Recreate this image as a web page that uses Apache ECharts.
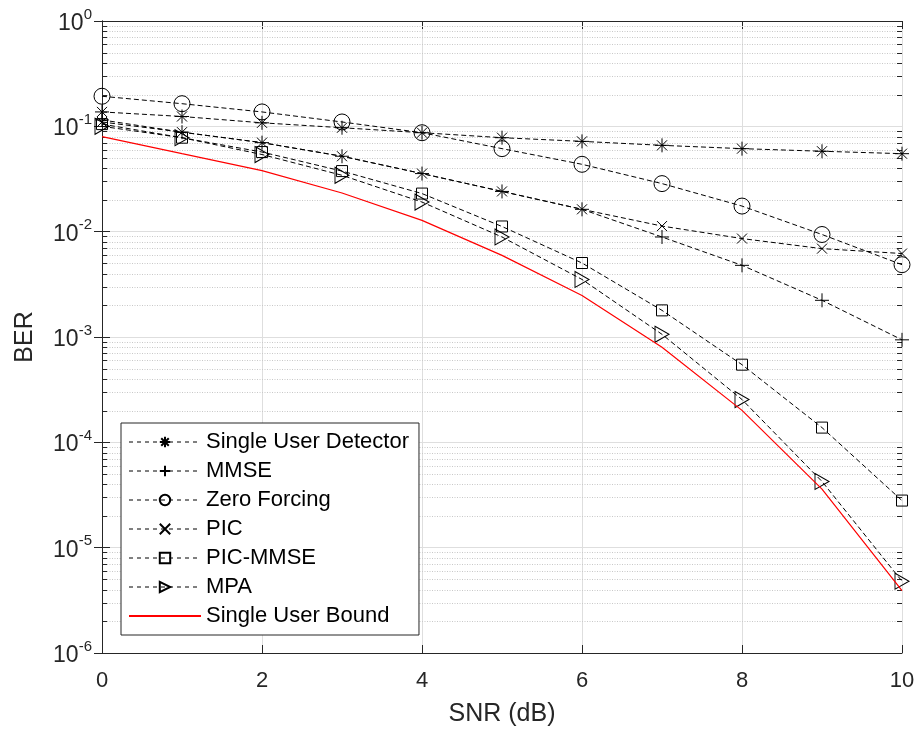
<!DOCTYPE html>
<html>
<head>
<meta charset="utf-8">
<script src="https://cdn.jsdelivr.net/npm/echarts@6/dist/echarts.min.js"></script>
<style>html,body{margin:0;padding:0;background:#fff}#c{width:919px;height:733px}</style>
</head>
<body>
<div id="c"></div>
<script>
var snr = [0,1,2,3,4,5,6,7,8,9,10];
var singleUserDetector = [0.137,0.124,0.108,0.097,0.087,0.078,0.072,0.066,0.0614,0.058,0.055];
var mmse = [0.115,0.088,0.070,0.052,0.0356,0.0241,0.0163,0.0089,0.00479,0.00223,0.00094];
var zeroForcing = [0.193,0.164,0.137,0.110,0.087,0.0614,0.0436,0.0286,0.0175,0.0094,0.00486];
var pic = [0.110,0.088,0.070,0.052,0.0356,0.0241,0.0163,0.0113,0.0086,0.0069,0.0062];
var picMmse = [0.105,0.078,0.057,0.0376,0.023,0.0112,0.00504,0.00179,0.000546,0.000138,0.000028];
var mpa = [0.100,0.078,0.054,0.0343,0.0191,0.0089,0.00352,0.00106,0.000255,0.0000425,0.0000048];
var singleUserBound = [0.080,0.055,0.038,0.0233,0.0128,0.00596,0.00248,0.0008,0.000201,0.000036,0.0000039];
var seriesNames = ['Single User Detector','MMSE','Zero Forcing','PIC','PIC-MMSE','MPA','Single User Bound'];
var xTicks = [0,2,4,6,8,10];
var decadeExponents = [-6,-5,-4,-3,-2,-1];
var minorMultipliers = [2,3,4,5,6,7,8,9];

var FONT = '"Liberation Sans", Arial, Helvetica, sans-serif';
var AX = '#262626';

var minorVals = [];
decadeExponents.forEach(function(e){ minorMultipliers.forEach(function(m){ minorVals.push([0, m*Math.pow(10,e)]); }); });

function pts(arr){ return snr.map(function(x,i){ return [x, arr[i]]; }); }

var SYM = {
  star: 'path://M0,-1L0,1M-1,0L1,0M-0.72,-0.72L0.72,0.72M-0.72,0.72L0.72,-0.72',
  plus: 'path://M0,-1L0,1M-1,0L1,0',
  cross: 'path://M-1,-1L1,1M-1,1L1,-1',
  square: 'path://M-1,-1L1,-1L1,1L-1,1Z',
  tri: 'path://M-1,-1L1,0L-1,1Z'
};

function dashed(name, data, symbol, size){
  return {
    name: name, type: 'line', data: pts(data), symbol: symbol, symbolSize: size,
    showAllSymbol: true, z: 3, silent: true,
    lineStyle: {color: '#000', width: 1, type: [5,3]},
    itemStyle: {color: 'rgba(0,0,0,0)', borderColor: '#000', borderWidth: 1},
    emphasis: {disabled: true}
  };
}

var legendData = seriesNames.map(function(n, i){
  if (i === seriesNames.length - 1) {
    return {name: n, itemStyle: {opacity: 0, color: 'rgba(0,0,0,0)', borderWidth: 0}};
  }
  return {name: n, lineStyle: {type: [4,4], width: 1}};
});

var chart = echarts.init(document.getElementById('c'), null, {renderer: 'canvas'});
chart.setOption({
  animation: false,
  backgroundColor: '#fff',
  textStyle: {fontFamily: FONT},
  grid: {left: 102, right: 17, top: 21, bottom: 80, containLabel: false},
  legend: {
    data: legendData, orient: 'vertical', left: 121, top: 423,
    backgroundColor: '#fff', borderColor: AX, borderWidth: 1,
    padding: [8, 10, 8, 7], itemGap: 7, itemWidth: 72, itemHeight: 13,
    textStyle: {fontSize: 22, color: '#000', fontFamily: FONT},
    selectedMode: false
  },
  xAxis: [{
    type: 'value', min: 0, max: 10, interval: 2,
    name: 'SNR (dB)', nameLocation: 'middle', nameGap: 49,
    nameTextStyle: {fontSize: 25, color: AX, fontFamily: FONT},
    axisLine: {show: true, lineStyle: {color: AX, width: 1}},
    axisTick: {show: true, inside: true, length: 8, lineStyle: {color: AX}},
    axisLabel: {fontSize: 22, color: AX, margin: 17, fontFamily: FONT},
    splitLine: {show: true, lineStyle: {color: '#dedede', width: 1}}
  }, {
    type: 'value', min: 0, max: 10, interval: 2, position: 'top',
    axisLine: {show: true, onZero: false, lineStyle: {color: AX, width: 1}},
    axisTick: {show: true, inside: true, length: 8, lineStyle: {color: AX}},
    axisLabel: {show: false}, splitLine: {show: false}
  }],
  yAxis: [{
    type: 'log', logBase: 10, min: 1e-6, max: 1,
    name: 'BER', nameLocation: 'middle', nameGap: 64,
    nameTextStyle: {fontSize: 25, color: AX, fontFamily: FONT},
    axisLine: {show: true, lineStyle: {color: AX, width: 1}},
    axisTick: {show: true, inside: true, length: 8, lineStyle: {color: AX}},
    axisLabel: {
      margin: 10, color: AX,
      formatter: function(v){ var e = Math.round(Math.log10(v)); return '{b|10}{s|' + e + '}'; },
      rich: {
        b: {fontSize: 23, color: AX, fontFamily: FONT, verticalAlign: 'bottom'},
        s: {fontSize: 15, color: AX, fontFamily: FONT, verticalAlign: 'bottom', padding: [0,0,13,0]}
      }
    },
    splitLine: {show: true, lineStyle: {color: '#dedede', width: 1}}
  }, {
    type: 'log', logBase: 10, min: 1e-6, max: 1, position: 'right',
    axisLine: {show: true, lineStyle: {color: AX, width: 1}},
    axisTick: {show: true, inside: true, length: 8, lineStyle: {color: AX}},
    axisLabel: {show: false}, splitLine: {show: false}
  }],
  series: [
    {
      type: 'custom', name: 'minor', data: minorVals, z: 1, silent: true, clip: false,
      renderItem: function(params, api){
        var v = api.value(1);
        var p0 = api.coord([0, v]), p1 = api.coord([10, v]);
        var y = Math.round(p0[1]) + 0.5;
        return {type: 'group', children: [
          {type: 'line', shape: {x1: p0[0], y1: y, x2: p1[0], y2: y}, style: {stroke: '#c8c8c8', lineWidth: 1, lineDash: [1,1.5]}},
          {type: 'line', shape: {x1: p0[0], y1: y, x2: p0[0] + 5, y2: y}, style: {stroke: AX, lineWidth: 1}},
          {type: 'line', shape: {x1: p1[0], y1: y, x2: p1[0] - 5, y2: y}, style: {stroke: AX, lineWidth: 1}}
        ]};
      }
    },
    dashed(seriesNames[0], singleUserDetector, SYM.star, 14),
    dashed(seriesNames[1], mmse, SYM.plus, 14),
    dashed(seriesNames[2], zeroForcing, 'circle', 16),
    dashed(seriesNames[3], pic, SYM.cross, 10),
    dashed(seriesNames[4], picMmse, SYM.square, 11),
    dashed(seriesNames[5], mpa, SYM.tri, [14,16]),
    {
      name: seriesNames[6], type: 'line', data: pts(singleUserBound), symbol: 'none', z: 4, silent: true,
      lineStyle: {color: '#ff0000', width: 1.2, type: 'solid'}, itemStyle: {color: '#ff0000'},
      emphasis: {disabled: true}
    }
  ]
});
</script>
</body>
</html>
